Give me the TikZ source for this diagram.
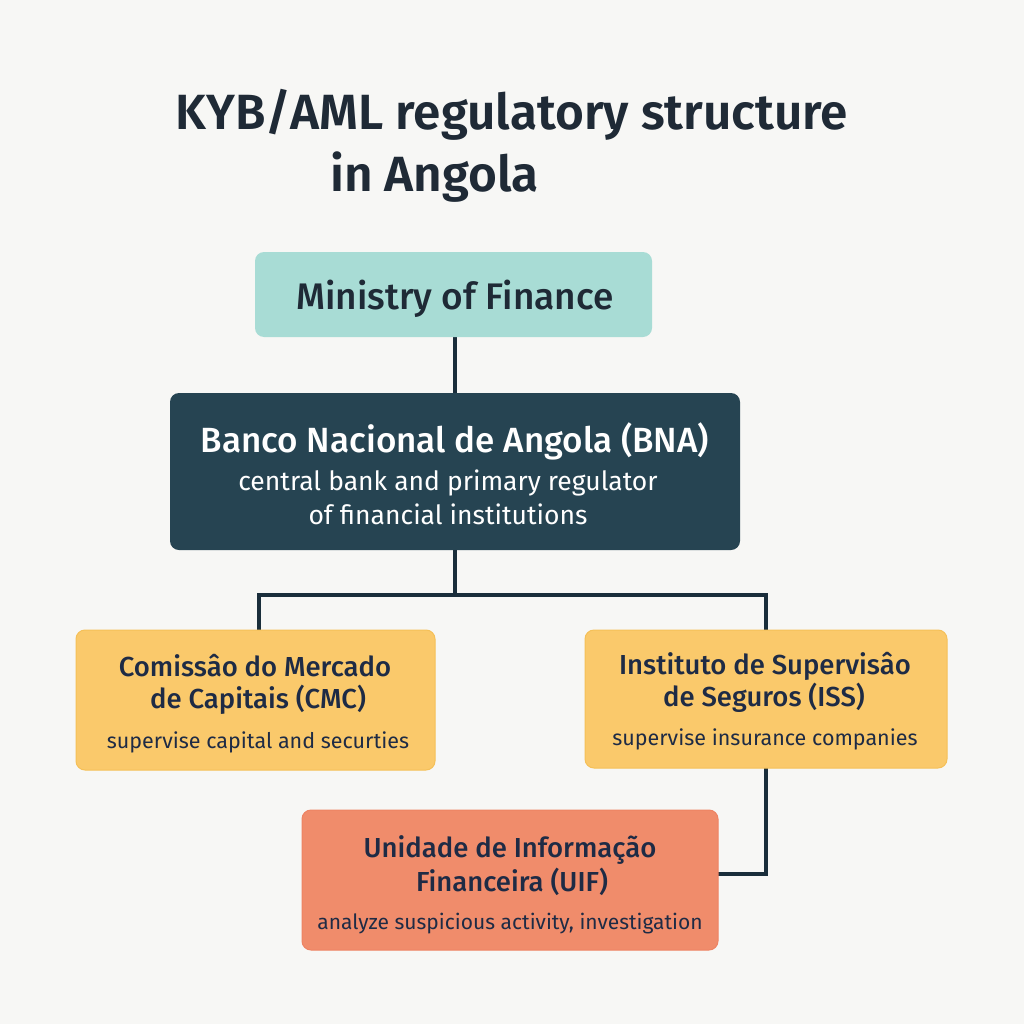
\documentclass[tikz,border=0pt]{standalone}
\usepackage{fontspec}
\setmainfont{Fira Sans}
\newfontfamily\medfont{Fira Sans Medium}
\newfontfamily\semifont{Fira Sans SemiBold}
\definecolor{bg}{HTML}{F7F7F5}
\definecolor{teal}{HTML}{A8DCD5}
\definecolor{navybox}{HTML}{264452}
\definecolor{yel}{HTML}{FAC96B}
\definecolor{yelb}{HTML}{F5C058}
\definecolor{coral}{HTML}{F08C6B}
\definecolor{coralb}{HTML}{EE8363}
\definecolor{ink}{HTML}{1E2B45}
\definecolor{titleink}{HTML}{1F2A36}
\definecolor{wire}{HTML}{1A2E3B}
\tikzset{
  orgbox/.style={rounded corners=9pt},
  wireline/.style={draw=wire, line width=3.2pt},
  txt/.style={anchor=base, inner sep=0pt},
  headtxt/.style={txt, font=\medfont\fontsize{27.5}{30}\selectfont},
  subtxt/.style={txt, font=\fontsize{21.5}{24}\selectfont},
}
\begin{document}
\begin{tikzpicture}[x=1pt,y=-1pt]
\fill[bg] (0,0) rectangle (1024,1024);
\useasboundingbox (0,0) rectangle (1024,1024);
% title
\node[txt, text=titleink, font=\semifont\fontsize{49.5}{52}\selectfont] (t1) at (512,130) {KYB/AML regulatory structure};
\node[anchor=base west, inner sep=0pt, text=titleink, font=\semifont\fontsize{49.5}{52}\selectfont] (t2) at (330,192) {in Angola};
% connectors (drawn first so boxes sit on top)
\coordinate (mofS) at (455,337);
\coordinate (bnaN) at (455,393);
\coordinate (bnaS) at (455,550);
\coordinate (split) at (455,595);
\coordinate (cmcN) at (259,630);
\coordinate (issN) at (766,630);
\coordinate (issS) at (766,768);
\coordinate (uifE) at (718,874);
\draw[wireline] (mofS) -- (bnaN);
\draw[wireline] (bnaS) -- (split);
\draw[wireline] (cmcN) |- (split) -| (issN);
\draw[wireline] (issS) |- (uifE);
% boxes
\draw[orgbox, fill=teal, draw=none] (255,252) rectangle (652,337);
\node[txt, text=titleink, font=\medfont\fontsize{37}{40}\selectfont] (mof) at (455,309) {Ministry of Finance};

\draw[orgbox, fill=navybox, draw=none] (170,393) rectangle (740,550);
\node[txt, text=white, font=\medfont\fontsize{35}{38}\selectfont] (bna1) at (455,452) {Banco Nacional de Angola (BNA)};
\node[txt, text=white, font=\fontsize{26.5}{30}\selectfont] (bna2) at (448,490) {central bank and primary regulator};
\node[txt, text=white, font=\fontsize{26.5}{30}\selectfont] (bna3) at (448,524) {of financial institutions};

\draw[orgbox, fill=yel, draw=yelb, line width=1pt] (76,630) rectangle (435,770);
\node[headtxt, text=ink] (cmc1) at (255,676) {Comissâo do Mercado};
\node[headtxt, text=ink] (cmc2) at (258,708) {de Capitais (CMC)};
\node[subtxt, text=ink] (cmc3) at (258,748) {supervise capital and securties};

\draw[orgbox, fill=yel, draw=yelb, line width=1pt] (585,630) rectangle (947,768);
\node[headtxt, text=ink] (iss1) at (765,674) {Instituto de Supervisâo};
\node[headtxt, text=ink] (iss2) at (764,706) {de Seguros (ISS)};
\node[subtxt, text=ink] (iss3) at (765,745) {supervise insurance companies};

\draw[orgbox, fill=coral, draw=coralb, line width=1pt] (302,810) rectangle (718,950);
\node[headtxt, text=ink] (uif1) at (510,857) {Unidade de Informação};
\node[headtxt, text=ink] (uif2) at (512,891) {Financeira (UIF)};
\node[subtxt, text=ink, font=\fontsize{21}{24}\selectfont] (uif3) at (510,929) {analyze suspicious activity, investigation};
\end{tikzpicture}
\end{document}
